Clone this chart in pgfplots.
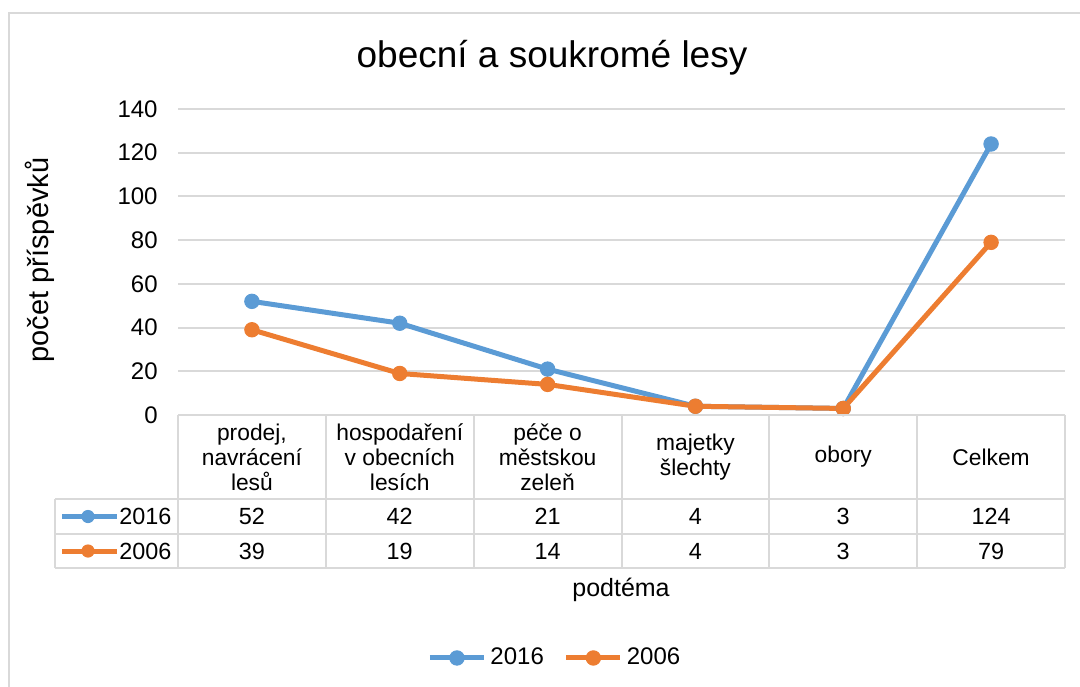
\documentclass[border=0pt]{standalone}
\usepackage{fontspec}
\setmainfont{Liberation Sans}
\usepackage{pgfplots}
\usepackage{pgfplotstable}
\pgfplotsset{compat=1.18}
\definecolor{cblue}{HTML}{5B9BD5}
\definecolor{corange}{HTML}{ED7D31}
\definecolor{cgrid}{HTML}{D9D9D9}

\pgfplotstableread{
x a b
0 52 39
1 42 19
2 21 14
3 4 4
4 3 3
5 124 79
}\datatable

\begin{document}
\begin{tikzpicture}
\begin{axis}[
 at={(89pt,-54.5pt)}, anchor=north west,
 width=443.5pt, height=153pt, scale only axis,
 xmin=-0.5, xmax=5.5, ymin=0, ymax=140,
 ytick={0,20,...,140}, xtick=\empty,
 ymajorgrids, grid style={cgrid, line width=1pt},
 axis line style={draw=none}, tick style={draw=none},
 yticklabel style={anchor=east, inner sep=0pt, xshift=-10pt, font=\fontsize{12}{14}\selectfont},
 /pgf/number format/assume math mode=true,
 clip=false,
 legend columns=2,
 legend style={at={(0.426,-0.794)}, anchor=center, draw=none, fill=none,
   font=\fontsize{12}{14}\selectfont, inner sep=0pt,
   /tikz/every even column/.append style={column sep=8pt}},
 legend image code/.code={\draw[mark repeat=2,mark phase=2,#1] plot coordinates {(0pt,0pt) (13.5pt,0pt) (27pt,0pt)};},
]
\addplot[cblue, line width=2.5pt, mark=*, mark size=3.6pt, mark options={line width=0.5pt}] table[x=x,y=a]{\datatable};
\addlegendentry{2016}
\addplot[corange, line width=2.5pt, mark=*, mark size=3.6pt, mark options={line width=0.5pt}] table[x=x,y=b]{\datatable};
\addlegendentry{2006}
\end{axis}

\begin{scope}[x=0.5pt,y=-0.5pt]
% data table grid
\draw[cgrid, line width=1pt] (178,415) -- (1065,415);
\draw[cgrid, line width=1pt] (55,499) -- (1065,499);
\draw[cgrid, line width=1pt] (55,534) -- (1065,534);
\draw[cgrid, line width=1pt] (55,568) -- (1065,568);
\draw[cgrid, line width=1pt] (55,499) -- (55,568);
\foreach \i in {0,...,6} {
  \draw[cgrid, line width=1pt] ({178+147.83*\i},415) -- ({178+147.83*\i},568);
}
% category labels
\foreach \i/\lab in {0/{prodej,\\navrácení\\lesů},1/{hospodaření\\v obecních\\lesích},2/{péče o\\městskou\\zeleň},3/{majetky\\šlechty},4/{obory},5/{Celkem}} {
  \node[align=center, font=\fontsize{11.4}{12.5}\selectfont, inner sep=0pt] at ({178+147.83*(\i+0.5)},457) {\lab};
}
% values
\foreach \i in {0,...,5} {
  \pgfplotstablegetelem{\i}{a}\of\datatable
  \node[font=\fontsize{11.7}{14}\selectfont, inner sep=0pt] at ({178+147.83*(\i+0.5)},516.5) {\pgfplotsretval};
  \pgfplotstablegetelem{\i}{b}\of\datatable
  \node[font=\fontsize{11.7}{14}\selectfont, inner sep=0pt] at ({178+147.83*(\i+0.5)},551) {\pgfplotsretval};
}
% row keys
\draw[cblue, line width=2.5pt] (62,516.5) -- (117,516.5);
\fill[cblue] (88,516.5) circle[radius=3.3pt];
\node[anchor=west, font=\fontsize{11.7}{14}\selectfont, inner sep=0pt] at (119,516.5) {2016};
\draw[corange, line width=2.5pt] (62,551) -- (117,551);
\fill[corange] (88,551) circle[radius=3.3pt];
\node[anchor=west, font=\fontsize{11.7}{14}\selectfont, inner sep=0pt] at (119,551) {2006};
% titles
\node[font=\fontsize{18.5}{22}\selectfont] at (552,58) {obecní a soukromé lesy};
\node[rotate=90, font=\fontsize{14.5}{17}\selectfont] at (40,260) {počet příspěvků};
\node[font=\fontsize{12.5}{15}\selectfont] at (621,590) {podtéma};
% outer border
\draw[cgrid, line width=1pt] (9,720) -- (9,13) -- (1120,13);
\end{scope}
\pgfresetboundingbox
\path[use as bounding box] (0,0) rectangle (540pt,-343pt);
\end{tikzpicture}
\end{document}
